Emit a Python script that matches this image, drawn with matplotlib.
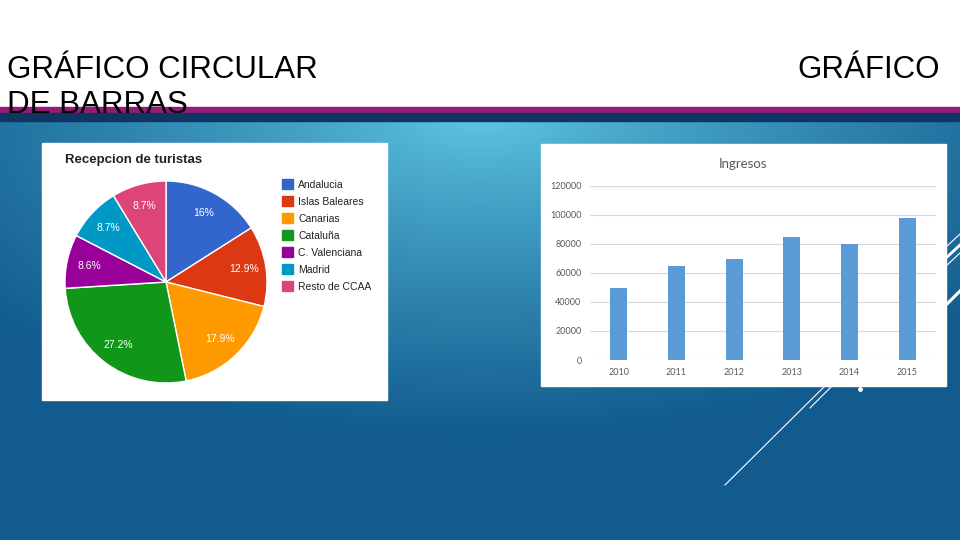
import numpy as np
import matplotlib
matplotlib.use("Agg")
import matplotlib.pyplot as plt
from matplotlib.colors import to_rgb
from matplotlib.patches import Rectangle, Patch

# Datos del gráfico circular
regiones = ["Andalucia", "Islas Baleares", "Canarias", "Cataluña",
            "C. Valenciana", "Madrid", "Resto de CCAA"]
porcentajes = [16, 12.9, 17.9, 27.2, 8.6, 8.7, 8.7]
colores_pie = ["#3366cc", "#dc3912", "#ff9900", "#109618",
               "#990099", "#0099c6", "#dd4477"]

# Datos del gráfico de barras
anios = ["2010", "2011", "2012", "2013", "2014", "2015"]
ingresos = [50000, 65000, 70000, 85000, 80000, 98000]
ticks_y = [0, 20000, 40000, 60000, 80000, 100000, 120000]

W, H = 960, 540
fig = plt.figure(figsize=(9.6, 5.4), dpi=100)


def px(x, y, w, h):
    # caja en pixeles (origen arriba a la izquierda) -> fracción de figura
    return [x / W, 1 - (y + h) / H, w / W, h / H]


# Fondo de la diapositiva
bg = fig.add_axes([0, 0, 1, 1])
bg.set_xlim(0, W)
bg.set_ylim(H, 0)
bg.axis("off")

yy, xx = np.mgrid[0:H, 0:W]
d = np.sqrt(((xx - 480) / 640.0) ** 2 + ((yy - 110) / 330.0) ** 2)
d = np.clip(d, 0, 1) ** 0.8
c1 = np.array(to_rgb("#62cbe6"))
c2 = np.array(to_rgb("#115b8e"))
img = c1[None, None, :] * (1 - d[..., None]) + c2[None, None, :] * d[..., None]
img[:107] = 1.0
bg.imshow(img, extent=(0, W, H, 0), aspect="auto", zorder=0)
bg.add_patch(Rectangle((0, 107), W, 6, color="#961a78", zorder=1))
bg.add_patch(Rectangle((0, 113), W, 8, color="#0e3563", zorder=1))

# Líneas decorativas
deco = [((725, 485), (834, 377), 0.8), ((810, 408), (832, 386), 0.8),
        ((946, 247), (960, 234), 0.8), ((946, 258), (960, 245), 2.0),
        ((946, 266), (960, 253), 0.8), ((946, 305), (960, 291), 2.2)]
for (x0, y0), (x1, y1), lw in deco:
    bg.plot([x0, x1], [y0, y1], color="white", lw=lw, zorder=2)
bg.plot([860], [389], "o", color="white", ms=2.5, zorder=2)

# Paneles blancos
bg.add_patch(Rectangle((42, 143), 345, 257, color="white", zorder=3))
bg.add_patch(Rectangle((541, 144), 405, 242, color="white", zorder=3))

# Títulos de la diapositiva
tfont = dict(family="Liberation Sans", fontsize=22.5, color="black")
fig.text(7 / W, 1 - 78 / H, "GRÁFICO CIRCULAR", va="baseline", **tfont)
fig.text(7 / W, 1 - 113 / H, "DE BARRAS", va="baseline", **tfont)
fig.text(940 / W, 1 - 78 / H, "GRÁFICO", ha="right", va="baseline", **tfont)

# Gráfico circular
ax1 = fig.add_axes(px(65, 181, 202, 202))
ax1.pie(porcentajes, colors=colores_pie, startangle=90, counterclock=False,
        autopct=lambda p: f"{p:.1f}".rstrip("0").rstrip(".") + "%",
        pctdistance=0.78,
        wedgeprops=dict(edgecolor="white", linewidth=1),
        textprops=dict(color="white", fontsize=7.5, family="Liberation Sans"))
ax1.set_xlim(-1, 1)
ax1.set_ylim(-1, 1)
ax1.set_aspect("equal")

fig.text(65 / W, 1 - 163 / H, "Recepcion de turistas", fontsize=9.5,
         fontweight="bold", family="Liberation Sans", color="#222222")

handles = [Patch(color=c) for c in colores_pie]
fig.legend(handles, regiones, loc="upper left",
           bbox_to_anchor=(282 / W, 1 - 179 / H), frameon=False,
           prop=dict(family="Liberation Sans", size=7.5),
           labelcolor="#222222", handlelength=1.1, handleheight=1.1,
           labelspacing=0.62, handletextpad=0.45, borderpad=0, borderaxespad=0)

# Gráfico de barras
ax2 = fig.add_axes(px(590, 186, 346, 174))
x = np.arange(len(anios))
ax2.bar(x, ingresos, width=0.3, color="#5b9bd5", zorder=2)
ax2.set_xlim(-0.5, len(anios) - 0.5)
ax2.set_ylim(0, 120000)
ax2.set_yticks(ticks_y)
ax2.set_yticklabels([str(t) for t in ticks_y])
ax2.set_xticks(x)
ax2.set_xticklabels(anios)
ax2.grid(axis="y", color="#d9d9d9", lw=0.8, zorder=0)
for s in ax2.spines.values():
    s.set_visible(False)
ax2.tick_params(length=0, labelsize=6.5, labelcolor="#595959", pad=6)
for lab in ax2.get_xticklabels() + ax2.get_yticklabels():
    lab.set_family("Lato")
ax2.set_facecolor("white")

fig.text(743 / W, 1 - 164 / H, "Ingresos", ha="center", va="center",
         fontsize=9.5, family="Lato", color="#595959")

fig.savefig("out.png", dpi=100)
